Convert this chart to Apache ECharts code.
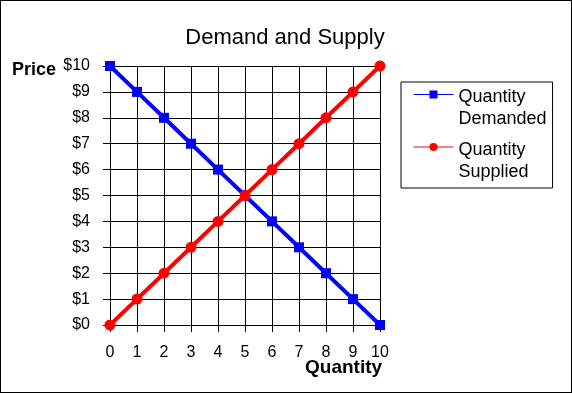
<!DOCTYPE html>
<html>
<head>
<meta charset="utf-8">
<script src="https://cdn.jsdelivr.net/npm/echarts@6/dist/echarts.min.js"></script>
<style>
html,body{margin:0;padding:0;background:#fff;}
#c{width:572px;height:393px;position:relative;}
#c:after{content:"";position:absolute;left:0;top:0;right:0;bottom:0;border:1px solid #000;pointer-events:none;}
</style>
</head>
<body>
<div id="c"></div>
<script>
const quantities = [0, 1, 2, 3, 4, 5, 6, 7, 8, 9, 10];
const demandPrices = [10, 9, 8, 7, 6, 5, 4, 3, 2, 1, 0];
const supplyPrices = [0, 1, 2, 3, 4, 5, 6, 7, 8, 9, 10];
const seriesNames = ['Quantity\nDemanded', 'Quantity\nSupplied'];
const titleText = 'Demand and Supply';
const yAxisTitle = 'Price';
const xAxisTitle = 'Quantity';

const FONT = '"Liberation Sans", Arial, sans-serif';
const chart = echarts.init(document.getElementById('c'), null, {renderer: 'canvas'});
const pairs = (ys) => quantities.map((q, i) => [q, ys[i]]);

chart.setOption({
  animation: false,
  backgroundColor: '#ffffff',
  title: [
    {text: titleText, left: 280, textAlign: 'center', top: 22,
     textStyle: {fontFamily: FONT, fontSize: 22, fontWeight: 'normal', color: '#000'}},
    {text: yAxisTitle, left: 7, top: 56,
     textStyle: {fontFamily: FONT, fontSize: 18, fontWeight: 'bold', color: '#000'}},
    {text: xAxisTitle, left: 300, top: 353,
     textStyle: {fontFamily: FONT, fontSize: 19, fontWeight: 'bold', color: '#000'}}
  ],
  grid: {left: 110, right: 192, top: 66, bottom: 68, containLabel: false},
  legend: {
    orient: 'vertical',
    left: 401, top: 82,
    padding: [-10, 6, 7, 12],
    borderColor: '#000', borderWidth: 1,
    itemWidth: 40, itemHeight: 10, itemGap: -4,
    lineStyle: {width: 1},
    formatter: name => '{e| }\n{a|' + name.split('\n').join('}\n{a|') + '}',
    textStyle: {
      fontFamily: FONT, fontSize: 18, color: '#000',
      rich: {
        e: {fontSize: 1, lineHeight: 28},
        a: {fontFamily: FONT, fontSize: 18, color: '#000', lineHeight: 22}
      }
    },
    data: seriesNames
  },
  xAxis: {
    type: 'value', min: 0, max: 10, interval: 1,
    axisLine: {show: true, lineStyle: {color: '#000', width: 1}},
    axisTick: {show: true, inside: false, length: 7, lineStyle: {color: '#000'}},
    axisLabel: {margin: 20, fontFamily: FONT, fontSize: 16, color: '#000'},
    splitLine: {show: true, lineStyle: {color: '#000', width: 1}}
  },
  yAxis: {
    type: 'value', min: 0, max: 10, interval: 1,
    axisLine: {show: true, lineStyle: {color: '#000', width: 1}},
    axisTick: {show: true, inside: false, length: 7, lineStyle: {color: '#000'}},
    axisLabel: {margin: 20, fontFamily: FONT, fontSize: 16, color: '#000', formatter: v => '$' + v},
    splitLine: {show: true, lineStyle: {color: '#000', width: 1}}
  },
  series: [
    {name: seriesNames[0], type: 'line', data: pairs(demandPrices),
     symbol: 'rect', symbolSize: 10, showAllSymbol: true,
     lineStyle: {color: '#0000ff', width: 4}, itemStyle: {color: '#0000ff'}, z: 2},
    {name: seriesNames[1], type: 'line', data: pairs(supplyPrices),
     symbol: 'circle', symbolSize: 11, showAllSymbol: true,
     lineStyle: {color: '#ff0000', width: 4}, itemStyle: {color: '#ff0000'}, z: 3}
  ]
});
</script>
</body>
</html>
